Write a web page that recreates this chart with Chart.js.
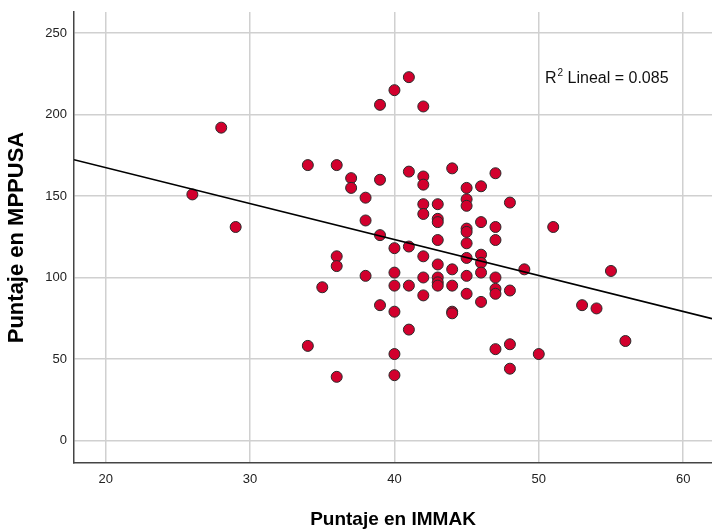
<!DOCTYPE html>
<html><head><meta charset="utf-8">
<script src="https://cdn.jsdelivr.net/npm/chart.js@4"></script>
<style>html,body{margin:0;padding:0;background:#fff;overflow:hidden}</style>
</head><body>
<canvas id="c" width="712" height="529"></canvas>
<script>
const immakScores = [26, 28, 29, 34, 34, 35, 36, 36, 36, 36, 37, 37, 38, 38, 38, 39, 39, 39, 39,
  40, 40, 40, 40, 40, 40, 40,
  41, 41, 41, 41, 41,
  42, 42, 42, 42, 42, 42, 42, 42,
  43, 43, 43, 43, 43, 43, 43, 43,
  44, 44, 44, 44, 44,
  45, 45, 45, 45, 45, 45, 45, 45, 45,
  46, 46, 46, 46, 46, 46,
  47, 47, 47, 47, 47, 47, 47,
  48, 48, 48, 48,
  49, 50, 51, 53, 54, 55, 56];
const mppusaScores = [151, 192, 131, 169, 58, 94, 169, 113, 107, 39, 161, 155, 149, 135, 101, 206, 160, 126, 83,
  215, 118, 103, 95, 79, 53, 40,
  223, 165, 119, 95, 68,
  205, 162, 157, 145, 139, 113, 100, 89,
  145, 136, 134, 123, 108, 100, 97, 95,
  167, 105, 95, 79, 78,
  155, 148, 144, 130, 128, 121, 112, 101, 90,
  156, 134, 114, 109, 103, 85,
  164, 131, 123, 100, 93, 90, 56,
  146, 92, 59, 44,
  105, 53, 131, 83, 81, 104, 61];
const fitLineX = [17.8, 62.0];
const fitLineY = [172.3, 74.7];
const xTicks = [20, 30, 40, 50, 60];
const yTicks = [0, 50, 100, 150, 200, 250];
const xRange = [17.8, 62.0];
const yRange = [-13.9, 263];
const xTitle = 'Puntaje en IMMAK';
const yTitle = 'Puntaje en MPPUSA';
const r2Text = 'Lineal = 0.085';

const FONT = '"Liberation Sans", Arial, sans-serif';
const points = immakScores.map((x, i) => ({x: x, y: mppusaScores[i]}));
const fit = fitLineX.map((x, i) => ({x: x, y: fitLineY[i]}));

const r2Plugin = {
  id: 'r2',
  afterDatasetsDraw(chart) {
    const {ctx, chartArea} = chart;
    ctx.save();
    ctx.fillStyle = '#111';
    ctx.textBaseline = 'alphabetic';
    ctx.textAlign = 'left';
    let x = chartArea.right - 167;
    const y = chartArea.top + 71;
    ctx.font = '16px ' + FONT;
    ctx.fillText('R', x, y);
    x += ctx.measureText('R').width + 1;
    ctx.font = '10px ' + FONT;
    ctx.fillText('2', x, y - 7);
    x += ctx.measureText('2').width;
    ctx.font = '16px ' + FONT;
    ctx.fillText(' ' + r2Text, x, y);
    ctx.restore();
  }
};

new Chart(document.getElementById('c'), {
  type: 'scatter',
  data: {
    datasets: [
      {
        type: 'line', data: fit, showLine: true, borderColor: '#000', borderWidth: 1.6,
        pointRadius: 0, fill: false, order: 0
      },
      {
        data: points, backgroundColor: '#d2002d', borderColor: '#2a2a2a', borderWidth: 1,
        pointRadius: 5.5, order: 1
      }
    ]
  },
  options: {
    responsive: false,
    animation: false,
    layout: {autoPadding: false, padding: {top: 12, left: 0, right: 0, bottom: 0}},
    plugins: {legend: {display: false}, tooltip: {enabled: false}},
    scales: {
      x: {
        type: 'linear', min: xRange[0], max: xRange[1],
        afterBuildTicks: s => { s.ticks = xTicks.map(v => ({value: v})); },
        afterFit: s => { s.height = 66; s.paddingLeft = 0; s.paddingRight = 0; },
        grid: {color: '#d0d0d0', lineWidth: 1.5, drawTicks: false},
        border: {color: '#444', width: 1.5},
        ticks: {padding: 9, color: '#222', font: {family: FONT, size: 13}},
        title: {display: true, text: xTitle, color: '#000', padding: 0,
                font: {family: FONT, size: 19, weight: 'bold', lineHeight: 1}}
      },
      y: {
        type: 'linear', min: yRange[0], max: yRange[1],
        afterBuildTicks: s => { s.ticks = yTicks.map(v => ({value: v})); },
        afterFit: s => { s.width = 74; s.paddingTop = 0; s.paddingBottom = 0; },
        grid: {color: '#d0d0d0', lineWidth: 1.5, drawTicks: false},
        border: {color: '#444', width: 1.5},
        ticks: {padding: 7, color: '#222', font: {family: FONT, size: 13}},
        title: {display: true, text: yTitle, color: '#000', padding: 6,
                font: {family: FONT, size: 22, weight: 'bold', lineHeight: 1}}
      }
    }
  },
  plugins: [r2Plugin]
});
</script>
</body></html>
